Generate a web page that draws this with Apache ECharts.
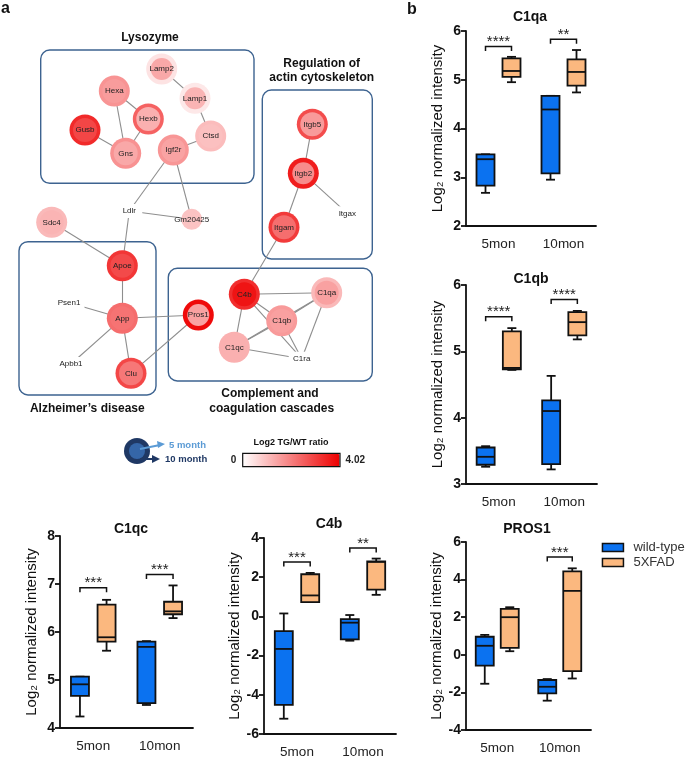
<!DOCTYPE html>
<html><head><meta charset="utf-8">
<script src="https://cdn.jsdelivr.net/npm/echarts@6/dist/echarts.min.js"></script>
<style>html,body{margin:0;padding:0;background:#fff}#c{width:685px;height:760px}</style>
</head><body><div id="c"></div>
<script>
// ================= DATA =================
const categories = ['5mon', '10mon'];
// box values per category: [min, Q1, median, Q3, max]
const c1qaWT = [[2.68, 2.83, 3.37, 3.47, 3.47], [2.95, 3.08, 4.39, 4.67, 4.67]];
const c1qaTG = [[4.95, 5.06, 5.18, 5.44, 5.47], [4.74, 4.88, 5.16, 5.42, 5.61]];
const c1qaSig = [[0, 5.68], [1, 5.83]];
const c1qaStars = ['****', '**'];

const c1qbWT = [[3.26, 3.29, 3.41, 3.55, 3.57], [3.22, 3.30, 4.10, 4.26, 4.63]];
const c1qbTG = [[4.72, 4.73, 4.75, 5.30, 5.35], [5.18, 5.24, 5.44, 5.59, 5.61]];
const c1qbSig = [[0, 5.52], [1, 5.78]];
const c1qbStars = ['****', '****'];

const c1qcWT = [[4.24, 4.67, 4.91, 5.07, 5.07], [4.48, 4.52, 5.69, 5.80, 5.81]];
const c1qcTG = [[5.61, 5.80, 5.89, 6.57, 6.67], [6.29, 6.37, 6.43, 6.63, 6.97]];
const c1qcSig = [[0, 6.92], [1, 7.20]];
const c1qcStars = ['***', '***'];

const c4bWT = [[-5.22, -4.51, -1.66, -0.75, 0.15], [-1.24, -1.17, -0.32, -0.14, 0.07]];
const c4bTG = [[0.73, 0.73, 1.07, 2.15, 2.22], [1.10, 1.37, 2.78, 2.81, 2.95]];
const c4bSig = [[0, 2.78], [1, 3.49]];
const c4bStars = ['***', '**'];

const pros1WT = [[-1.54, -0.58, 0.48, 0.96, 1.06], [-2.44, -2.05, -1.70, -1.34, -1.29]];
const pros1TG = [[0.19, 0.37, 2.00, 2.44, 2.53], [-1.26, -0.87, 3.40, 4.44, 4.60]];
const pros1Sig = [[1, 5.20]];
const pros1Stars = ['***'];

const groupNames = ['wild-type', '5XFAD'];

// network: genes, log2 TG/WT ratio at 5 month (inner) and 10 month (outer); null = not quantified
const genes = ['Lamp2','Lamp1','Hexa','Hexb','Gusb','Gns','Igf2r','Ctsd','Itgb5','Itgb2','Itgax','Itgam','Ldlr','Gm20425','Sdc4','Apoe','Psen1','App','Apbb1','Clu','Pros1','C4b','C1qa','C1qb','C1qc','C1ra'];
const ratio5month  = [1.37,1.18,1.56,1.25,2.92,1.37,1.45,1.00,1.59,1.81,null,2.29,null,0.95,1.18,2.85,null,2.20,null,2.15,1.48,3.70,1.48,1.50,1.25,null];
const ratio10month = [0.44,0.36,1.69,2.47,3.36,1.72,1.66,1.06,2.82,3.57,null,3.10,null,0.95,1.10,3.17,null,2.30,null,2.90,3.86,3.30,1.10,1.60,1.25,null];
const interactions = [
  ['Lamp2','Lamp1'],['Lamp1','Ctsd'],['Ctsd','Igf2r'],['Hexa','Hexb'],['Hexa','Gns'],['Hexb','Gns'],['Gusb','Gns'],
  ['Igf2r','Ldlr'],['Igf2r','Gm20425'],['Ldlr','Gm20425'],['Ldlr','Apoe'],['Sdc4','Apoe'],['Apoe','App'],
  ['Psen1','App'],['Apbb1','App'],['App','Clu'],['App','Pros1'],['Clu','Pros1'],
  ['Itgb5','Itgb2'],['Itgb2','Itgax'],['Itgb2','Itgam'],['Itgam','C4b'],
  ['C4b','C1qa'],['C4b','C1qb'],['C4b','C1qc'],['C4b','C1ra'],['C1qa','C1qb'],['C1qa','C1qc'],['C1qb','C1qc'],
  ['C1qa','C1ra'],['C1qb','C1ra'],['C1qc','C1ra']
];
const ratioMin = 0, ratioMax = 4.02;

// ================= LAYOUT / STYLE =================
const nodePos = {
  Lamp2:[161.7,69], Lamp1:[195,98.3], Hexa:[114.3,91], Hexb:[148.3,119], Gusb:[85,130], Gns:[125.7,153.3],
  Igf2r:[173.3,150], Ctsd:[210.7,136], Itgb5:[312.3,124.3], Itgb2:[303.3,173.3], Itgax:[347.3,213.3],
  Itgam:[284,227.3], Ldlr:[129.3,211], Gm20425:[191.7,219.3], Sdc4:[51.7,222.3], Apoe:[122.3,265.7],
  Psen1:[69,302.7], App:[122.3,318.3], Apbb1:[71,364], Clu:[131,373.3], Pros1:[198.3,315],
  C4b:[244.3,294.3], C1qa:[326.7,292.7], C1qb:[281.7,320.7], C1qc:[234.3,347.3], C1ra:[301.7,358.7]
};
const FONT = 'Liberation Sans, Arial, sans-serif';
const BLUE = '#0b72f0', ORANGE = '#fbb87f', INK = '#111';

const panels = [
  {title:'C1qa', wt:c1qaWT, tg:c1qaTG, sig:c1qaSig, stars:c1qaStars, min:2, max:6, interval:1,
   grid:{left:466, top:31, width:130, height:195}, titlePos:[530,17]},
  {title:'C1qb', wt:c1qbWT, tg:c1qbTG, sig:c1qbSig, stars:c1qbStars, min:3, max:6, interval:1,
   grid:{left:466, top:285, width:131, height:199}, titlePos:[531,279]},
  {title:'C1qc', wt:c1qcWT, tg:c1qcTG, sig:c1qcSig, stars:c1qcStars, min:4, max:8, interval:1,
   grid:{left:60, top:536, width:133, height:192}, titlePos:[131,529]},
  {title:'C4b', wt:c4bWT, tg:c4bTG, sig:c4bSig, stars:c4bStars, min:-6, max:4, interval:2,
   grid:{left:264, top:538, width:132, height:196}, titlePos:[329,524]},
  {title:'PROS1', wt:pros1WT, tg:pros1TG, sig:pros1Sig, stars:pros1Stars, min:-4, max:6, interval:2,
   grid:{left:466, top:542, width:125, height:188}, titlePos:[527,529]}
];

const chart = echarts.init(document.getElementById('c'), null, {renderer:'canvas'});

function boxRenderer(offsetFrac, fill) {
  return function (params, api) {
    const cat = api.value(0);
    const band = api.size([1, 0])[0];
    const x = api.coord([cat, api.value(3)])[0] + offsetFrac * band;
    const yv = i => api.coord([cat, api.value(i)])[1];
    const yMin = yv(1), yQ1 = yv(2), yMed = yv(3), yQ3 = yv(4), yMax = yv(5);
    const bw = 18, cw = 4.5;
    const ls = {stroke: INK, lineWidth: 1.8};
    return {type:'group', children:[
      {type:'line', shape:{x1:x, y1:yQ1, x2:x, y2:yMin}, style:ls},
      {type:'line', shape:{x1:x, y1:yQ3, x2:x, y2:yMax}, style:ls},
      {type:'line', shape:{x1:x-cw, y1:yMin, x2:x+cw, y2:yMin}, style:ls},
      {type:'line', shape:{x1:x-cw, y1:yMax, x2:x+cw, y2:yMax}, style:ls},
      {type:'rect', shape:{x:x-bw/2, y:yQ3, width:bw, height:yQ1-yQ3}, style:{fill:fill, stroke:INK, lineWidth:1.8}},
      {type:'line', shape:{x1:x-bw/2, y1:yMed, x2:x+bw/2, y2:yMed}, style:ls}
    ]};
  };
}
function sigRenderer(stars) {
  return function (params, api) {
    const cat = api.value(0);
    const band = api.size([1, 0])[0];
    const p = api.coord([cat, api.value(1)]);
    const xl = p[0] - 0.2 * band, xr = p[0] + 0.2 * band, y = p[1];
    return {type:'group', children:[
      {type:'polyline', shape:{points:[[xl, y+4.5],[xl, y],[xr, y],[xr, y+4.5]]}, style:{stroke:INK, lineWidth:1.5, fill:null}},
      {type:'text', x:p[0], y:y+3, style:{text:stars[params.dataIndex], textAlign:'center', textVerticalAlign:'bottom',
        font:'15px ' + FONT, fill:'#222'}}
    ]};
  };
}

const grids = [], xAxes = [], yAxes = [], series = [], graphics = [];
panels.forEach((p, gi) => {
  grids.push(Object.assign({containLabel:false}, p.grid));
  xAxes.push({type:'category', gridIndex:gi, data:categories,
    axisLine:{onZero:false, lineStyle:{color:INK, width:1.8}},
    axisTick:{alignWithLabel:true, length:5, lineStyle:{color:INK, width:1.8}},
    axisLabel:{fontSize:13.5, color:'#222', margin:11, fontFamily:FONT},
    splitLine:{show:false}});
  yAxes.push({type:'value', gridIndex:gi, min:p.min, max:p.max, interval:p.interval,
    name:'Log₂ normalized intensity', nameLocation:'middle', nameRotate:90, nameGap:21,
    nameTextStyle:{fontSize:15, color:INK, fontFamily:FONT},
    axisLine:{show:true, onZero:false, lineStyle:{color:INK, width:1.8}},
    axisTick:{show:true, length:5, lineStyle:{color:INK, width:1.8}},
    axisLabel:{fontSize:14, fontWeight:'bold', color:INK, margin:5, fontFamily:FONT},
    splitLine:{show:false}});
  const toData = arr => arr.map((v, i) => [i].concat(v));
  series.push({type:'custom', name:groupNames[0], xAxisIndex:gi, yAxisIndex:gi, clip:false, silent:true,
    itemStyle:{color:BLUE}, encode:{x:0, y:[1,2,3,4,5]}, data:toData(p.wt), renderItem:boxRenderer(-0.2, BLUE)});
  series.push({type:'custom', name:groupNames[1], xAxisIndex:gi, yAxisIndex:gi, clip:false, silent:true,
    itemStyle:{color:ORANGE}, encode:{x:0, y:[1,2,3,4,5]}, data:toData(p.tg), renderItem:boxRenderer(0.2, ORANGE)});
  series.push({type:'custom', xAxisIndex:gi, yAxisIndex:gi, clip:false, silent:true,
    encode:{x:0, y:1}, data:p.sig, renderItem:sigRenderer(p.stars)});
  graphics.push({type:'text', x:p.titlePos[0], y:p.titlePos[1], style:{text:p.title, textAlign:'center',
    textVerticalAlign:'middle', font:'bold 14px ' + FONT, fill:INK}});
});

// ----- network graph -----
const xs = genes.map(g => nodePos[g][0]), ys = genes.map(g => nodePos[g][1]);
const bx0 = Math.min(...xs), bx1 = Math.max(...xs), by0 = Math.min(...ys), by1 = Math.max(...ys);
function nodes(ratios, outer) {
  return genes.map((g, i) => {
    const r = ratios[i];
    const base = {name:g, x:nodePos[g][0], y:nodePos[g][1]};
    if (r == null) {
      return Object.assign(base, {value:0, visualMap:false, symbol:'rect',
        symbolSize: outer ? [g.length * 5 + 6, 14] : 1,
        itemStyle:{color: outer ? '#ffffff' : 'rgba(0,0,0,0)'},
        label:{show:!outer}});
    }
    const small = g === 'Gm20425';
    const lighter = g === 'Lamp1' || g === 'Lamp2' || g === 'Pros1' || g === 'Itgb2';
    return Object.assign(base, {value:r,
      symbolSize: outer ? (small ? 21 : 31) : (small ? 15 : (lighter ? 22 : 24))});
  });
}
const graphCommon = {type:'graph', layout:'none', roam:false, silent:true, animation:false,
  left:bx0, top:by0, width:bx1 - bx0, height:by1 - by0, emphasis:{disabled:true}};
const outerIdx = series.length;
series.push(Object.assign({}, graphCommon, {name:'10 month',
  data:nodes(ratio10month, true),
  links:interactions.map(e => ({source:e[0], target:e[1]})),
  lineStyle:{color:'#8e8e8e', width:1.1, opacity:1, curveness:0},
  label:{show:false}}));
series.push(Object.assign({}, graphCommon, {name:'5 month',
  data:nodes(ratio5month, false), links:[],
  label:{show:true, position:'inside', fontSize:8, color:'#222', fontFamily:FONT, formatter:'{b}'}}));

// group boxes & titles
const boxes = [[40.7,50,254,183.3],[262.3,90,372.3,259],[19,241.7,156,395],[168.3,268.3,372.3,381]];
boxes.forEach(b => graphics.push({type:'rect', shape:{x:b[0], y:b[1], width:b[2]-b[0], height:b[3]-b[1], r:9},
  style:{fill:null, stroke:'#3d6390', lineWidth:1.4}, z:1}));
const groupTitles = [['Lysozyme',150,37.3],['Regulation of',321.7,63.3],['actin cytoskeleton',321.7,77.3],
  ['Alzheimer’s disease',87.3,408.3],['Complement and',270,393.3],['coagulation cascades',271.7,408.3]];
groupTitles.forEach(t => graphics.push({type:'text', x:t[1], y:t[2], style:{text:t[0], textAlign:'center',
  textVerticalAlign:'middle', font:'bold 12px ' + FONT, fill:INK}}));
graphics.push({type:'text', x:1, y:9, style:{text:'a', textVerticalAlign:'middle', font:'bold 16px ' + FONT, fill:INK}});
graphics.push({type:'text', x:407, y:9.5, style:{text:'b', textVerticalAlign:'middle', font:'bold 16px ' + FONT, fill:INK}});

// ring legend
graphics.push({type:'circle', shape:{cx:137, cy:451, r:13}, style:{fill:'#1f3864'}});
graphics.push({type:'circle', shape:{cx:137, cy:451, r:8}, style:{fill:'#3566a8'}});
graphics.push({type:'line', shape:{x1:140, y1:449, x2:160, y2:445}, style:{stroke:'#5b9bd5', lineWidth:2}});
graphics.push({type:'polygon', shape:{points:[[165,444],[157,441],[158,448]]}, style:{fill:'#5b9bd5'}});
graphics.push({type:'line', shape:{x1:140, y1:459, x2:154, y2:459}, style:{stroke:'#1f3864', lineWidth:2}});
graphics.push({type:'polygon', shape:{points:[[160,459],[152,455],[152,463]]}, style:{fill:'#1f3864'}});
graphics.push({type:'text', x:169, y:445.5, style:{text:'5 month', textVerticalAlign:'middle', font:'bold 9.5px ' + FONT, fill:'#5b9bd5'}});
graphics.push({type:'text', x:165, y:459.3, style:{text:'10 month', textVerticalAlign:'middle', font:'bold 9.5px ' + FONT, fill:'#1f3864'}});
// colour bar frame and title
graphics.push({type:'text', x:291, y:442.7, style:{text:'Log2 TG/WT ratio', textAlign:'center', textVerticalAlign:'middle', font:'bold 9px ' + FONT, fill:INK}});
graphics.push({type:'rect', shape:{x:242.7, y:453.3, width:97.3, height:13.4}, style:{fill:null, stroke:INK, lineWidth:1.2}, z:100});

chart.setOption({
  animation:false,
  textStyle:{fontFamily:FONT},
  grid:grids, xAxis:xAxes, yAxis:yAxes, series:series,
  visualMap:{type:'continuous', min:ratioMin, max:ratioMax, seriesIndex:[outerIdx, outerIdx + 1],
    orient:'horizontal', left:215.7, top:438.6, itemWidth:13.4, itemHeight:97.3, text:['4.02','0'], textGap:6,
    calculable:false, hoverLink:false, inRange:{color:['#ffffff','#ee0000']},
    textStyle:{fontSize:10, fontWeight:'bold', color:'#222', fontFamily:FONT}},
  legend:{show:true, orient:'vertical', left:601.7, top:541, padding:0, itemWidth:21, itemHeight:8, itemGap:2, selectedMode:false,
    textStyle:{fontSize:13, color:'#333', fontFamily:FONT, padding:[0,0,0,5]},
    data:[{name:groupNames[0], icon:'rect', itemStyle:{color:BLUE, borderColor:INK, borderWidth:1.5}},
          {name:groupNames[1], icon:'rect', itemStyle:{color:ORANGE, borderColor:INK, borderWidth:1.5}}]},
  graphic:{elements:graphics}
});
</script></body></html>
